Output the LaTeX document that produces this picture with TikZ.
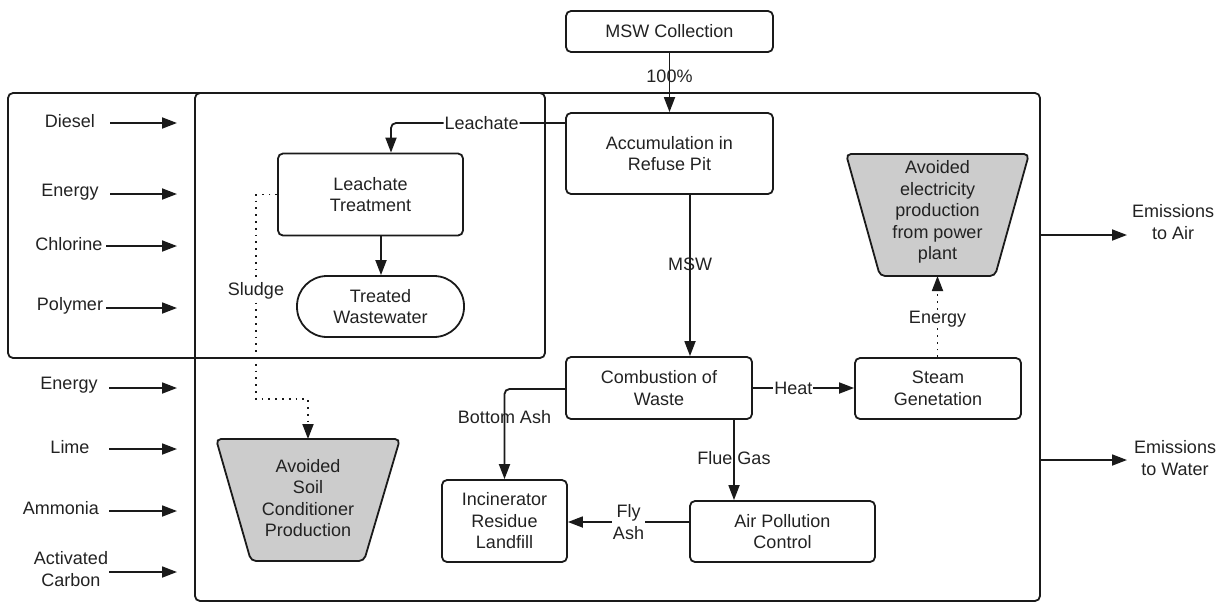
\documentclass[tikz,border=0pt]{standalone}
\usepackage{fontspec}
\setmainfont{Liberation Sans}
\usetikzlibrary{arrows.meta}
\definecolor{ln}{HTML}{1A1A1A}
\definecolor{txt}{HTML}{222222}
\definecolor{avoid}{HTML}{CCCCCC}
\newcommand{\fs}{\fontsize{18}{21.5}\selectfont}
\begin{document}
\begin{tikzpicture}[x=1pt,y=-1pt,
  every node/.style={font=\fs, text=txt},
  frame/.style={draw=ln, line width=1.8pt, rounded corners=5pt, inner sep=0pt},
  box/.style={draw=ln, line width=1.8pt, rounded corners=5pt, align=center, inner sep=0pt},
  conn/.style={draw=ln, line width=1.8pt, -{Triangle[length=15pt,width=11pt]}},
  dotconn/.style={draw=ln, line width=1.8pt, dash pattern=on 1.8pt off 5pt, -{Triangle[length=15pt,width=11pt]}},
  lbl/.style={fill=white, inner sep=1pt, align=center},
  nlbl/.style={inner sep=1pt, align=center},
  txtnode/.style={align=center, inner sep=0pt},
]
\useasboundingbox (0,0) rectangle (1226,603);

% frames
\node[frame, minimum width=537pt, minimum height=265pt] (left) at (276.5,225.5) {};
\node[frame, minimum width=845pt, minimum height=508pt] (main) at (617.5,347) {};

% boxes
\node[box, minimum width=207pt, minimum height=41pt] (coll) at (669.5,31.5) {MSW Collection};
\node[box, minimum width=207pt, minimum height=81pt] (accum) at (669.5,153.5) {Accumulation in\\Refuse Pit};
\node[box, minimum width=185pt, minimum height=82pt] (leach) at (370.5,194.5) {Leachate\\Treatment};
\node[box, rounded corners=30pt, minimum width=167pt, minimum height=61pt] (treated) at (380.5,306.5) {Treated\\Wastewater};
\node[box, minimum width=186pt, minimum height=62pt] (comb) at (659,388) {Combustion of\\Waste};
\node[box, minimum width=166pt, minimum height=61pt] (steam) at (938,388.5) {Steam\\Genetation};
\node[box, minimum width=125pt, minimum height=82pt] (incin) at (504.5,521) {Incinerator\\Residue\\Landfill};
\node[box, minimum width=185pt, minimum height=61pt] (apc) at (782.5,531.5) {Air Pollution\\Control};

% avoided products (trapezoids)
\draw[draw=ln, fill=avoid, line width=1.8pt, rounded corners=5pt]
  (846,154) -- (1029,154) -- (995,276) -- (880,276) -- cycle;
\coordinate (elecbot) at (937.5,276);
\node[txtnode] (elec) at (937.5,212) {Avoided\\electricity\\production\\from power\\plant};
\draw[draw=ln, fill=avoid, line width=1.8pt, rounded corners=5pt]
  (216,439) -- (400,439) -- (364,561) -- (251,561) -- cycle;
\coordinate (soiltop) at (308,439);
\node[txtnode] (soil) at (308,498) {Avoided\\Soil\\Conditioner\\Production};

% connectors
\draw[conn] (coll) -- node[nlbl, pos=0.39] {100\%} (accum);
\draw[conn, rounded corners=5pt] (accum.west |- 0,123) -- node[lbl, pos=0.48] {Leachate} (391,123) -- (leach.north -| 391,0);
\draw[conn] (leach.south -| 381,0) -- (treated.north -| 381,0);
\draw[dotconn] (leach.west) -- (256,194.5) -- node[lbl, pos=0.47] {Sludge} (256,399) -- (308,399) -- (soiltop);
\draw[conn] (accum.south -| 690,0) -- node[nlbl, pos=0.43] {MSW} (comb.north -| 690,0);
\draw[conn] (comb.east |- 0,388) -- node[lbl, pos=0.4] {Heat} (steam.west |- 0,388);
\draw[dotconn] (steam.north -| 937.5,0) -- node[lbl, pos=0.47] {Energy} (elecbot);
\draw[conn, rounded corners=5pt] (comb.west |- 0,389) -- (incin.north |- 0,389) -- node[nlbl, pos=0.31] {Bottom Ash} (incin.north);
\draw[conn] (comb.south -| 734,0) -- node[nlbl, pos=0.48] {Flue Gas} (apc.north -| 734,0);
\draw[conn] (apc.west |- 0,522) -- node[lbl, pos=0.5] {Fly\\Ash} (incin.east |- 0,522);

% emissions
\node[txtnode] (air) at (1173,222) {Emissions\\to Air};
\node[txtnode] (water) at (1175,458) {Emissions\\to Water};
\coordinate (airend) at (1127,235);
\coordinate (waterend) at (1127,460);
\draw[conn] (main.east |- airend) -- (airend);
\draw[conn] (main.east |- waterend) -- (waterend);

% inputs
\foreach \n/\t/\tx/\ty/\ay/\sx in {a/Diesel/70/121/123/110, b/Energy/70/192/194/110, c/Chlorine/69/244/246/106, d/Polymer/70/306/308/106, e/Energy/69/385/388/109, f/Lime/70/447/449/109, g/Ammonia/61/508/511/109, h/{Activated\\Carbon}/71/569/572/109}{
  \node[txtnode] (in\n) at (\tx,\ty) {\t};
  \coordinate (in\n s) at (\sx,\ay);
  \coordinate (in\n e) at (177,\ay);
  \draw[conn] (in\n s) -- (in\n e);
}
\end{tikzpicture}
\end{document}
